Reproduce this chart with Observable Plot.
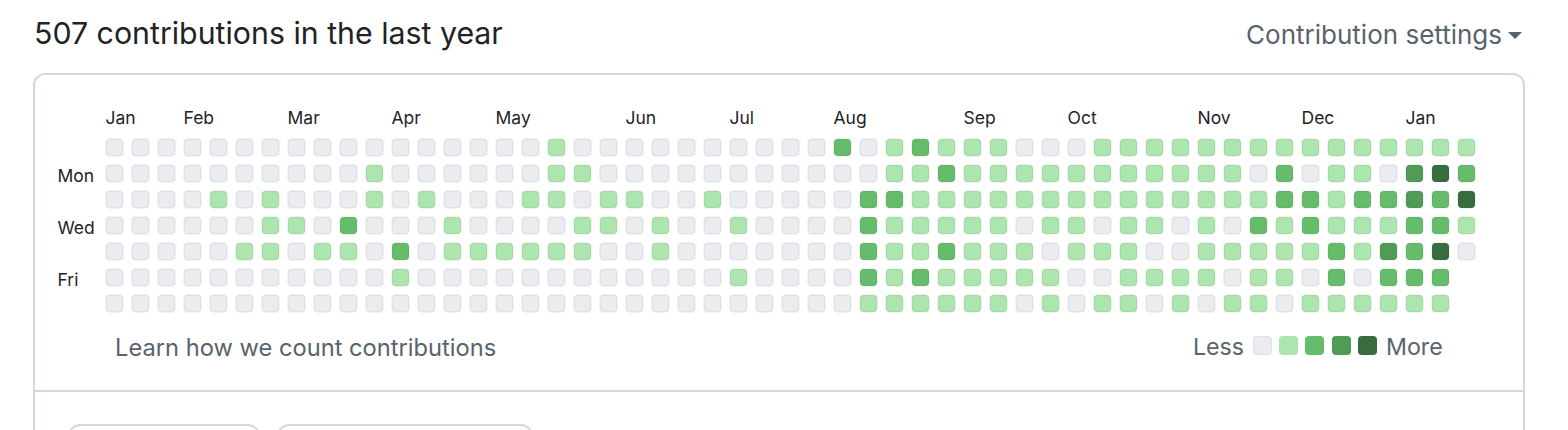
<!DOCTYPE html>
<html>
<head>
<meta charset="utf-8">
<script src="https://cdn.jsdelivr.net/npm/d3@7"></script>
<script src="https://cdn.jsdelivr.net/npm/@observablehq/plot@0.6"></script>
<style>
  html, body { margin: 0; padding: 0; background: #ffffff; width: 1568px; height: 430px; overflow: hidden; }
  body { position: relative; font-family: Inter, "Liberation Sans", Arial, sans-serif; }
  .abs { position: absolute; white-space: nowrap; line-height: 1; }
  #title { left: 34px; top: 18.3px; font-size: 30.3px; color: #1f2328; }
  #settings { right: 66px; top: 22.3px; font-size: 26px; color: #59636e; }
  #caret { position: absolute; left: 1508px; top: 32px; width: 0; height: 0;
           border-left: 7.5px solid transparent; border-right: 7.5px solid transparent; border-top: 7px solid #59636e; }
  #box { position: absolute; left: 33px; top: 72.5px; width: 1492px; height: 420px; box-sizing: border-box;
         border: 2px solid #d1d9e0; border-radius: 12px; }
  #divider { position: absolute; left: 33px; top: 390px; width: 1492px; height: 2px; background: #d1d9e0; }
  .btn { position: absolute; top: 424px; height: 40px; box-sizing: border-box; border: 2px solid #d1d9e0; border-radius: 12px; }
  #learn { left: 115px; top: 335.6px; font-size: 23.7px; color: #59636e; }
  #less { right: 324px; top: 336px; font-size: 23.2px; color: #59636e; }
  #more { left: 1386px; top: 336px; font-size: 23.2px; color: #59636e; }
  .sw { position: absolute; top: 336px; width: 19px; height: 19px; box-sizing: border-box; border-radius: 4px; }
  #chart { position: absolute; left: 0; top: 0; }
</style>
</head>
<body>
<div id="box"></div>
<div id="divider"></div>
<div class="btn" style="left:68px;width:192px;"></div>
<div class="btn" style="left:277px;width:256px;"></div>
<div id="title" class="abs">507 contributions in the last year</div>
<div id="settings" class="abs">Contribution settings</div>
<div id="caret"></div>
<div id="learn" class="abs">Learn how we count contributions</div>
<div id="less" class="abs">Less</div>
<div id="more" class="abs">More</div>
<div id="legend"></div>
<div id="chart"></div>
<script>
// Contribution levels (0 = none ... 4 = most), one array per weekday, one entry per week column
const sun = [0,0,0,0,0,0,0,0,0,0,0,0,0,0,0,0,0,1,0,0,0,0,0,0,0,0,0,0,2,0,1,2,1,1,1,0,0,0,1,1,1,1,1,1,1,1,1,1,1,1,1,1,1];
const mon = [0,0,0,0,0,0,0,0,0,0,1,0,0,0,0,0,0,1,1,0,0,0,0,0,0,0,0,0,0,0,1,1,2,1,1,1,1,1,1,1,1,1,1,1,0,2,0,1,1,0,3,4,2];
const tue = [0,0,0,0,1,0,1,0,0,0,1,0,1,0,0,0,1,1,0,1,1,0,0,1,0,0,0,0,0,2,2,1,1,1,1,1,1,1,1,1,1,1,1,1,1,2,2,1,2,2,3,2,4];
const wed = [0,0,0,0,0,0,1,1,0,2,0,0,0,1,0,0,0,0,1,1,0,1,0,0,1,0,0,0,0,2,1,1,1,1,1,0,1,1,0,1,1,0,1,0,2,1,2,1,1,1,2,2,1];
const thu = [0,0,0,0,0,1,1,0,1,1,0,2,0,1,1,1,1,1,1,0,0,1,0,0,0,0,0,0,0,2,1,1,2,1,1,1,0,1,1,1,0,0,1,1,1,1,1,2,1,3,2,4,0];
const fri = [0,0,0,0,0,0,0,0,0,0,0,1,0,0,0,0,0,0,0,0,0,0,0,0,1,0,0,0,0,2,1,2,1,1,1,1,1,0,0,1,1,1,1,0,1,1,0,2,0,2,2,2];
const sat = [0,0,0,0,0,0,0,0,0,0,0,0,0,0,0,0,0,0,0,0,0,0,0,0,0,0,0,0,0,1,1,1,1,1,1,0,1,0,1,1,0,1,0,1,1,0,1,1,1,1,1,1];

const weekdays = [sun, mon, tue, wed, thu, fri, sat];
const dayLabelNames = ["", "Mon", "", "Wed", "", "Fri", ""];

const monthNames = ["Jan", "Feb", "Mar", "Apr", "May", "Jun", "Jul", "Aug", "Sep", "Oct", "Nov", "Dec", "Jan"];
const monthWeeks = [0, 3, 7, 11, 15, 20, 24, 28, 33, 37, 42, 46, 50];

const levels = [0, 1, 2, 3, 4];
const palette = ["#ebecf0", "#ace5ad", "#65bd6b", "#509c57", "#386b3d"];

const nWeeks = 53;

const cells = [];
weekdays.forEach((arr, d) => arr.forEach((v, w) => cells.push({week: w, day: d, level: v})));
const months = monthNames.map((m, i) => ({label: m, week: monthWeeks[i]}));
const dayLabels = dayLabelNames.map((n, i) => ({label: n, day: i})).filter(d => d.label);

const chart = Plot.plot({
  width: 1568,
  height: 330,
  marginTop: 0, marginBottom: 0, marginRight: 0, marginLeft: 57,
  x: {type: "band", domain: d3.range(nWeeks), range: [105, 1476], paddingInner: 7/26, paddingOuter: 0, round: false, axis: null},
  y: {type: "band", domain: d3.range(7), range: [138, 313], paddingInner: 7/26, paddingOuter: 0, round: false, axis: null},
  color: {type: "ordinal", domain: levels, range: palette},
  style: {fontFamily: "Inter, 'Liberation Sans', Arial, sans-serif", fontSize: "18px", color: "#1f2328", background: "transparent", overflow: "visible"},
  marks: [
    Plot.cell(cells, {x: "week", y: "day", fill: "level", rx: 4, inset: 1, stroke: "#1b1f24", strokeOpacity: 0.06, strokeWidth: 2}),
    Plot.text(months, {x: "week", y: () => 0, text: "label", textAnchor: "start", lineAnchor: "bottom", dx: -9.5, dy: -24, fill: "#1f2328", fontSize: 17.5}),
    Plot.text(dayLabels, {y: "day", text: "label", frameAnchor: "left", textAnchor: "start", lineAnchor: "middle", dy: 2.5, fill: "#1f2328", fontSize: 17.5})
  ]
});
document.getElementById("chart").appendChild(chart);

const legend = document.getElementById("legend");
levels.forEach((lv, i) => {
  const s = document.createElement("div");
  s.className = "sw";
  s.style.left = (1253 + i * 26.2) + "px";
  s.style.background = palette[i];
  if (i === 0) s.style.border = "1px solid rgba(27,31,36,0.06)";
  legend.appendChild(s);
});
</script>
</body>
</html>
